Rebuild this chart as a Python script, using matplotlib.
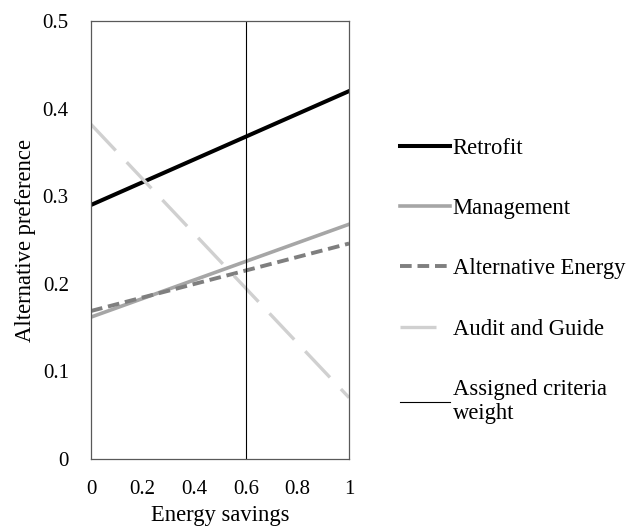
import matplotlib.pyplot as plt

plt.rcParams['font.family'] = ['Liberation Serif', 'DejaVu Serif']

# Sensitivity of alternative preference to the energy savings weight
weights = [0, 1]
retrofit = [0.29, 0.42]
management = [0.162, 0.268]
alt_energy = [0.169, 0.246]
audit_guide = [0.382, 0.07]
assigned_weight = 0.6

x_ticks = [0, 0.2, 0.4, 0.6, 0.8, 1]
x_tick_labels = ["0", "0.2", "0.4", "0.6", "0.8", "1"]
y_ticks = [0, 0.1, 0.2, 0.3, 0.4, 0.5]
y_tick_labels = ["0", "0.1", "0.2", "0.3", "0.4", "0.5"]

fig = plt.figure(figsize=(6.29, 5.29), dpi=100)
ax = fig.add_axes([0.1447, 0.1323, 0.4103, 0.828])

ax.plot(weights, retrofit, color="#000000", lw=2.9, label="Retrofit")
ax.plot(weights, management, color="#a6a6a6", lw=2.6, label="Management")
ax.plot(weights, alt_energy, color="#7f7f7f", lw=2.8, dashes=(3.0, 1.5),
        label="Alternative Energy")
ax.plot(weights, audit_guide, color="#d0d0d0", lw=2.4, dashes=(10.8, 4.8),
        label="Audit and Guide")
ax.axvline(assigned_weight, color="#000000", lw=0.8,
           label="Assigned criteria\nweight")

ax.set_xlim(0, 1)
ax.set_ylim(0, 0.5)
ax.set_xticks(x_ticks)
ax.set_xticklabels(x_tick_labels)
ax.set_yticks(y_ticks)
ax.set_yticklabels(y_tick_labels)
ax.tick_params(length=0, labelsize=15, colors="#000000")
ax.tick_params(axis="x", pad=15)
ax.tick_params(axis="y", pad=16)
for s in ax.spines.values():
    s.set_color("#595959")
    s.set_linewidth(0.9)

ax.set_xlabel("Energy savings", fontsize=16.3, labelpad=4.5)
ax.set_ylabel("Alternative preference", fontsize=16.3, labelpad=5)

handles, labels = ax.get_legend_handles_labels()
fig.legend(handles, labels, loc="upper left", bbox_to_anchor=(0.636, 0.740),
           frameon=False, fontsize=16.3, handlelength=2.2, handletextpad=0.12,
           labelspacing=1.74, borderpad=0, borderaxespad=0)

plt.savefig("out.png", dpi=100)
